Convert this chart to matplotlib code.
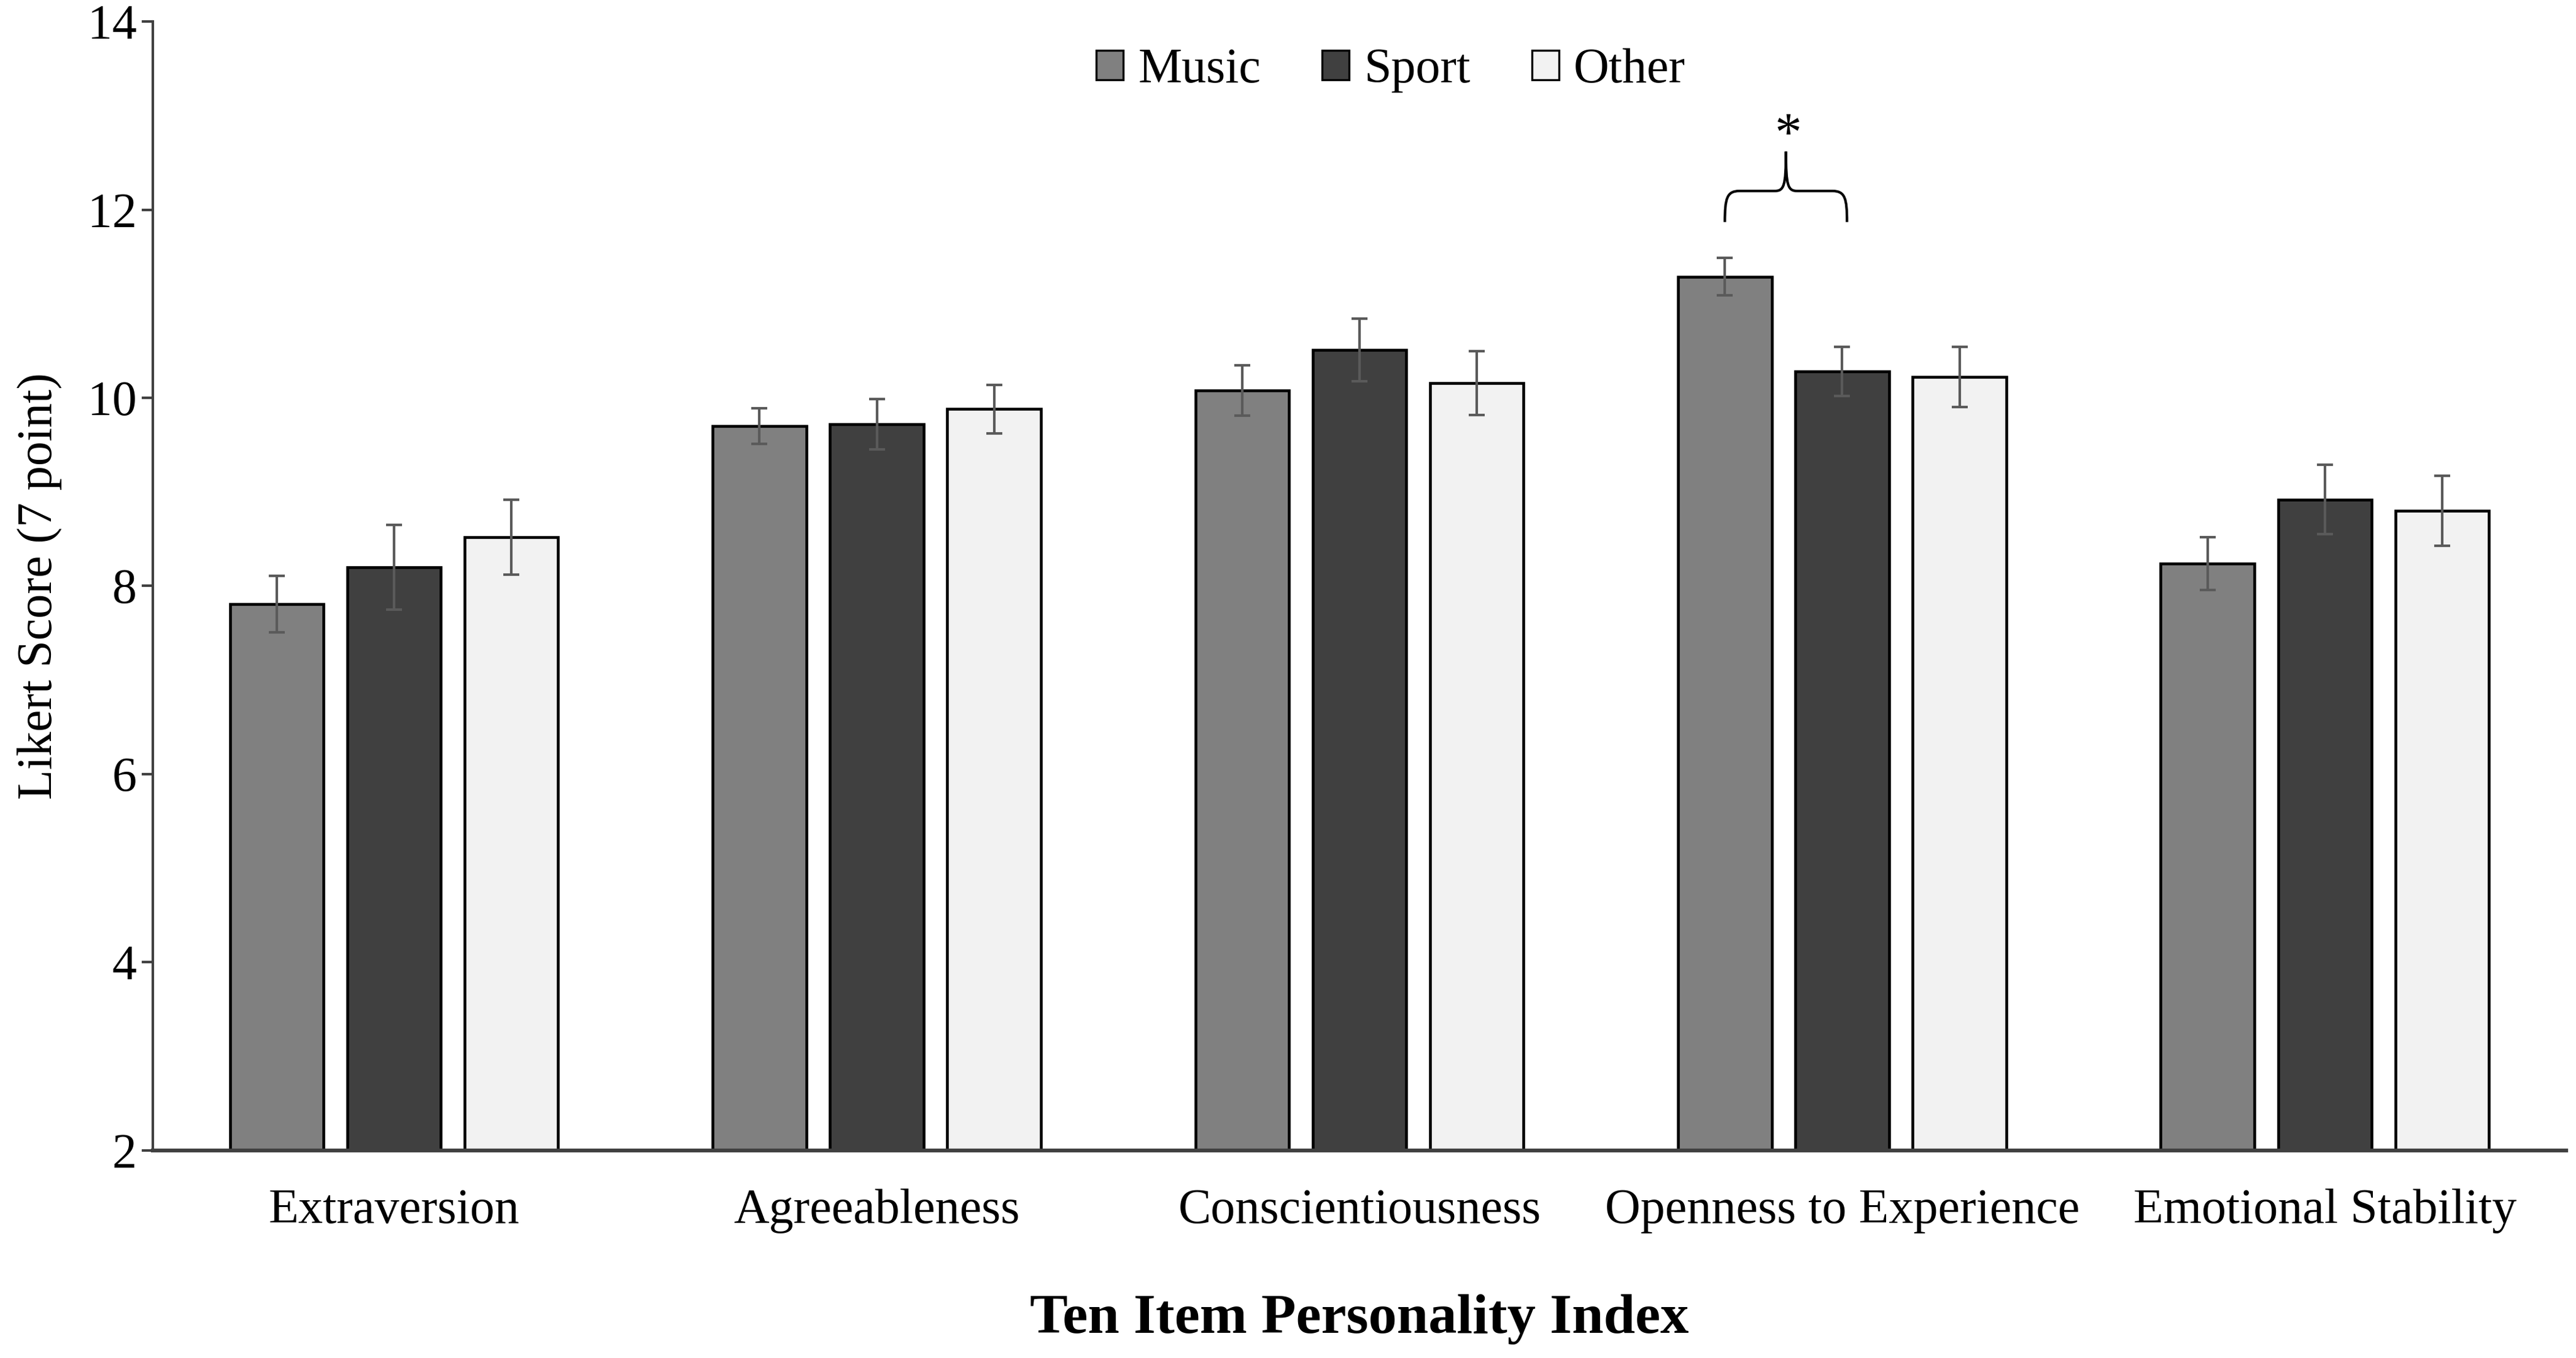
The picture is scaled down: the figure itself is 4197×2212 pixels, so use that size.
import numpy as np
import matplotlib
matplotlib.use("Agg")
import matplotlib.pyplot as plt
from matplotlib.path import Path
from matplotlib.patches import PathPatch, Patch

categories = ["Extraversion", "Agreeableness", "Conscientiousness",
              "Openness to Experience", "Emotional Stability"]
groups = ["Music", "Sport", "Other"]
music = [7.81, 9.70, 10.08, 11.29, 8.24]
sport = [8.20, 9.72, 10.51, 10.28, 8.92]
other = [8.52, 9.88, 10.16, 10.22, 8.80]
music_se = [0.30, 0.19, 0.27, 0.20, 0.28]
sport_se = [0.45, 0.27, 0.33, 0.26, 0.37]
other_se = [0.40, 0.26, 0.34, 0.32, 0.37]
colors = ["#808080", "#404040", "#f2f2f2"]
yticks = [2, 4, 6, 8, 10, 12, 14]

plt.rcParams['font.family'] = ['Liberation Serif', 'DejaVu Serif']

fig = plt.figure(figsize=(4197/300, 2212/300), dpi=300)
ax = fig.add_axes([0.0593, 0.153, 0.9369, 0.831])

x = np.arange(len(categories))
off = 0.243
w = 0.194
vals = [music, sport, other]
ses = [music_se, sport_se, other_se]
for i, (v, s, c, g) in enumerate(zip(vals, ses, colors, groups)):
    pos = x + (i - 1) * off
    ax.bar(pos, np.array(v) - 2, bottom=2, width=w, color=c, edgecolor='black',
           linewidth=1.1, label=g, zorder=2)
    ax.errorbar(pos, v, yerr=s, fmt='none', ecolor='#5a5a5a', elinewidth=1.0,
                capsize=3.2, capthick=1.0, zorder=3)

ax.set_xlim(-0.5, len(categories) - 0.5)
ax.set_ylim(2, 14)
ax.set_yticks(yticks)
ax.set_xticks(x)
ax.set_xticklabels(categories, fontsize=19.2)
ax.tick_params(axis='y', labelsize=19.2, length=4.3, width=1.0, color='#404040', pad=2)
ax.tick_params(axis='x', length=0, pad=15)
for sp in ['top', 'right']:
    ax.spines[sp].set_visible(False)
ax.spines['left'].set_color('#404040')
ax.spines['left'].set_linewidth(1.0)
ax.spines['bottom'].set_color('#404040')
ax.spines['bottom'].set_linewidth(1.5)

ax.set_ylabel("Likert Score (7 point)", fontsize=19.2, labelpad=10)
ax.set_xlabel("Ten Item Personality Index", fontsize=22.2, fontweight='bold', va='center')
ax.xaxis.set_label_coords(0.5, -0.150)

handles = [Patch(facecolor=c, edgecolor='black', linewidth=0.8) for c in colors]
ax.legend(handles, groups, loc='center', bbox_to_anchor=(0.513, 0.957), ncol=3,
          frameon=False, fontsize=19.2, handlelength=0.55, handleheight=0.55,
          handletextpad=0.3, columnspacing=1.25)

# significance brace between Music and Sport for Openness
k = 3
x1 = k - off
x2 = k + 0.01
xm = (x1 + x2) / 2
yb, yh, yp = 11.87, 12.20, 12.62
dx = 0.03
verts = [(x1, yb), (x1, yh - 0.08), (x1 + 0.004, yh), (x1 + dx, yh),
         (xm - dx * 0.8, yh),
         (xm - 0.004, yh), (xm, yh + 0.05), (xm, yp),
         (xm, yh + 0.05), (xm + 0.004, yh), (xm + dx * 0.8, yh),
         (x2 - dx, yh),
         (x2 - 0.004, yh), (x2, yh - 0.08), (x2, yb)]
codes = [Path.MOVETO, Path.CURVE4, Path.CURVE4, Path.CURVE4,
         Path.LINETO,
         Path.CURVE4, Path.CURVE4, Path.CURVE4,
         Path.CURVE4, Path.CURVE4, Path.CURVE4,
         Path.LINETO,
         Path.CURVE4, Path.CURVE4, Path.CURVE4]
ax.add_patch(PathPatch(Path(verts, codes), facecolor='none', edgecolor='black',
                       linewidth=1.0, zorder=4))
ax.text(xm + 0.005, 12.78, "*", ha='center', va='center', fontsize=21)

fig.savefig("out.png", dpi=300)
